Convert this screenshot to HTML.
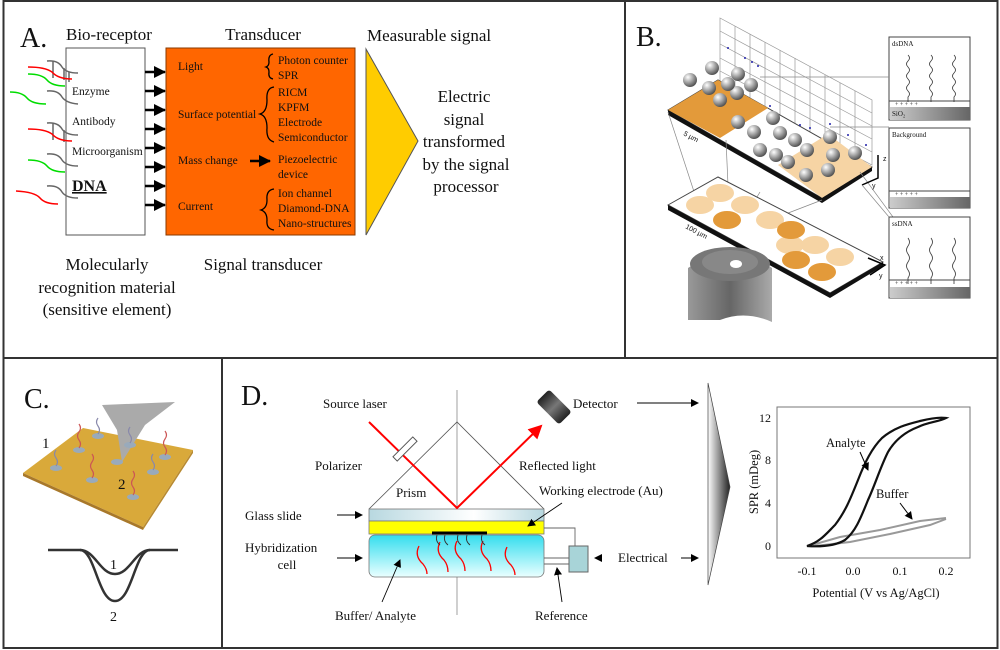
<!DOCTYPE html>
<html><head><meta charset="utf-8"><style>
html,body{margin:0;padding:0;background:#fff}
svg{display:block}
text{font-family:"Liberation Serif",serif;fill:#111}
.s{font-family:"Liberation Sans",sans-serif}
</style></head><body>
<svg width="1000" height="650" viewBox="0 0 1000 650" xmlns="http://www.w3.org/2000/svg">
<defs>
<marker id="ah" markerWidth="8" markerHeight="8" refX="7" refY="4" orient="auto" markerUnits="userSpaceOnUse"><path d="M0,0 L8,4 L0,8 z" fill="#000"/></marker>
<marker id="ahb" markerWidth="12" markerHeight="12" refX="11" refY="6" orient="auto" markerUnits="userSpaceOnUse"><path d="M0,0 L12,6 L0,12 z" fill="#000"/></marker>
<marker id="ahr" markerWidth="14" markerHeight="14" refX="12" refY="7" orient="auto" markerUnits="userSpaceOnUse"><path d="M0,0 L14,7 L0,14 z" fill="#f00"/></marker>
<linearGradient id="glass" x1="0" x2="1"><stop offset="0" stop-color="#b8d8e0"/><stop offset="0.6" stop-color="#fff"/><stop offset="1" stop-color="#b8d8e0"/></linearGradient>
<linearGradient id="cell" x1="0" y1="0" x2="0" y2="1"><stop offset="0" stop-color="#33ddee"/><stop offset="1" stop-color="#eaffff"/></linearGradient>
<linearGradient id="tri" x1="0" x2="1"><stop offset="0" stop-color="#fff"/><stop offset="1" stop-color="#222"/></linearGradient>
<linearGradient id="sub" x1="0" x2="1"><stop offset="0" stop-color="#ccc"/><stop offset="1" stop-color="#666"/></linearGradient>
<radialGradient id="ball" cx="0.35" cy="0.3" r="0.7"><stop offset="0" stop-color="#fff"/><stop offset="0.5" stop-color="#aaa"/><stop offset="1" stop-color="#555"/></radialGradient>
<linearGradient id="det" x1="0" x2="1"><stop offset="0" stop-color="#222"/><stop offset="0.5" stop-color="#777"/><stop offset="1" stop-color="#222"/></linearGradient>
<linearGradient id="obj" x1="0" x2="1"><stop offset="0" stop-color="#999"/><stop offset="0.5" stop-color="#666"/><stop offset="1" stop-color="#aaa"/></linearGradient>
</defs>

<rect x="3.5" y="1" width="994" height="647" fill="none" stroke="#333" stroke-width="2"/>
<line x1="3" y1="358" x2="998" y2="358" stroke="#333" stroke-width="2"/>
<line x1="625" y1="1" x2="625" y2="358" stroke="#333" stroke-width="2"/>
<line x1="222" y1="358" x2="222" y2="648" stroke="#333" stroke-width="2"/>

<!-- PANEL A -->
<text x="20" y="47" font-size="28">A.</text>
<text x="66" y="40" font-size="17">Bio-receptor</text>
<text x="263" y="40" font-size="17" text-anchor="middle">Transducer</text>
<text x="367" y="41" font-size="17">Measurable signal</text>
<rect x="66" y="48" width="79" height="187" fill="#fff" stroke="#555"/>
<rect x="166" y="48" width="189" height="187" fill="#ff6600" stroke="#8a3a00"/>
<polygon points="366,49 418,141 366,235" fill="#ffcc00" stroke="#555"/>
<g stroke="#000" stroke-width="2.5" marker-end="url(#ahb)">
<line x1="145" y1="72" x2="165" y2="72"/><line x1="145" y1="91" x2="165" y2="91"/><line x1="145" y1="110" x2="165" y2="110"/><line x1="145" y1="129" x2="165" y2="129"/><line x1="145" y1="148" x2="165" y2="148"/><line x1="145" y1="167" x2="165" y2="167"/><line x1="145" y1="186" x2="165" y2="186"/><line x1="145" y1="205" x2="165" y2="205"/>
<line x1="250" y1="161" x2="270" y2="161"/>
</g>
<g font-size="11.5">
<text x="72" y="95">Enzyme</text><text x="72" y="125">Antibody</text><text x="72" y="155">Microorganism</text>
<text x="178" y="70">Light</text><text x="178" y="118">Surface potential</text><text x="178" y="164">Mass change</text><text x="178" y="210">Current</text>
<text x="278" y="64">Photon counter</text><text x="278" y="79">SPR</text>
<text x="278" y="96">RICM</text><text x="278" y="111">KPFM</text><text x="278" y="126">Electrode</text><text x="278" y="141">Semiconductor</text>
<text x="278" y="163">Piezoelectric</text><text x="278" y="178">device</text>
<text x="278" y="197">Ion channel</text><text x="278" y="212">Diamond-DNA</text><text x="278" y="227">Nano-structures</text>
</g>
<text x="72" y="191" font-size="16" font-weight="bold" text-decoration="underline">DNA</text>
<g fill="none" stroke="#000" stroke-width="1.3">
<path d="M273,54 Q268,55 269,62 Q269,66 266,67 Q269,68 269,72 Q268,78 273,79"/>
<path d="M274,87 Q266,88 267,100 Q267,112 260,114 Q267,116 267,128 Q266,140 274,142"/>
<path d="M274,189 Q266,190 267,200 Q267,208 261,210 Q267,212 267,220 Q266,229 274,230"/>
</g>
<g font-size="17" text-anchor="middle">
<text x="464" y="102">Electric</text><text x="464" y="125">signal</text><text x="464" y="147">transformed</text><text x="466" y="170">by the signal</text><text x="466" y="192">processor</text>
<text x="107" y="270">Molecularly</text><text x="107" y="293">recognition material</text><text x="107" y="315">(sensitive element)</text>
<text x="263" y="270">Signal transducer</text>
</g>
<g fill="none" stroke-width="1.5">
<g stroke="#666"><path d="M47,61 Q58,60 62,67 Q66,73 78,73"/><path d="M47,91 Q58,90 62,97 Q66,103 78,104"/><path d="M47,123 Q58,122 62,129 Q66,135 78,135"/><path d="M47,154 Q58,153 62,160 Q66,166 78,166"/><path d="M47,186 Q58,185 62,192 Q66,198 78,198"/>
<path d="M53,61 V78 M64,68 V80 M69,72 V82 M53,123 V140 M64,130 V142"/></g>
<g stroke="#f00"><path d="M28,67 Q45,67 52,72 Q58,79 72,79"/><path d="M28,129 Q45,129 52,134 Q58,141 72,141"/><path d="M16,191 Q35,192 40,198 Q45,204 58,204"/></g>
<g stroke="#0d0"><path d="M28,74 Q42,74 47,80 Q52,86 65,86"/><path d="M10,92 Q22,92 27,98 Q32,104 46,104"/><path d="M28,160 Q42,160 47,166 Q52,172 65,172"/></g>
</g>

<!-- PANEL B -->
<text x="636" y="46" font-size="28">B.</text>
<g stroke="#999" stroke-width="0.7" fill="none">
<polygon points="720,18 872,100 872,165 720,85"/>
<line x1="735" y1="26" x2="735" y2="93"/><line x1="750" y1="34" x2="750" y2="101"/><line x1="765" y1="42" x2="765" y2="109"/><line x1="780" y1="50" x2="780" y2="117"/><line x1="795" y1="58" x2="795" y2="125"/><line x1="810" y1="66" x2="810" y2="133"/><line x1="825" y1="75" x2="825" y2="141"/><line x1="840" y1="83" x2="840" y2="149"/><line x1="855" y1="91" x2="855" y2="157"/>
<line x1="720" y1="31" x2="872" y2="113"/><line x1="720" y1="44" x2="872" y2="126"/><line x1="720" y1="58" x2="872" y2="139"/><line x1="720" y1="71" x2="872" y2="152"/>
</g>
<polygon points="668,110 718,80 872,167 822,198" fill="#fff" stroke="#444"/>
<polygon points="668,110 718,80 768,108 720,138" fill="#e39a3a"/>
<polygon points="778,165 828,134 872,167 822,198" fill="#f6d4a4"/>
<polygon points="668,110 822,198 822,203 668,115" fill="#111"/>
<polygon points="822,198 872,167 872,171 822,203" fill="#111"/>
<g fill="url(#ball)">
<circle cx="690" cy="80" r="7"/><circle cx="712" cy="68" r="7"/><circle cx="738" cy="74" r="7"/><circle cx="737" cy="93" r="7"/><circle cx="709" cy="88" r="7"/><circle cx="728" cy="84" r="7"/><circle cx="751" cy="85" r="7"/><circle cx="720" cy="100" r="7"/>
<circle cx="738" cy="122" r="7"/><circle cx="754" cy="132" r="7"/><circle cx="780" cy="133" r="7"/><circle cx="795" cy="140" r="7"/><circle cx="760" cy="150" r="7"/><circle cx="776" cy="155" r="7"/><circle cx="788" cy="162" r="7"/><circle cx="807" cy="150" r="7"/><circle cx="830" cy="137" r="7"/><circle cx="833" cy="155" r="7"/><circle cx="855" cy="153" r="7"/><circle cx="828" cy="170" r="7"/><circle cx="806" cy="175" r="7"/><circle cx="773" cy="118" r="7"/>
</g>
<g fill="#22a"><circle cx="728" cy="48" r="1"/><circle cx="745" cy="58" r="1"/><circle cx="752" cy="62" r="1"/><circle cx="758" cy="66" r="1"/><circle cx="770" cy="106" r="1"/><circle cx="800" cy="125" r="1"/><circle cx="810" cy="128" r="1"/><circle cx="830" cy="124" r="1"/><circle cx="848" cy="135" r="1"/><circle cx="866" cy="145" r="1"/></g>
<text x="683" y="135" font-size="7" class="s" transform="rotate(28 683 135)">5 µm</text>
<g stroke="#888" stroke-width="0.7"><line x1="668" y1="112" x2="700" y2="210"/><line x1="726" y1="140" x2="728" y2="185"/><line x1="822" y1="200" x2="770" y2="220"/><line x1="760" y1="192" x2="740" y2="225"/><line x1="860" y1="172" x2="893" y2="217"/></g>
<polygon points="668,205 718,177 883,262 830,293" fill="#fff" stroke="#444"/>
<g fill="#f6d4a4"><ellipse cx="720" cy="193" rx="14" ry="9"/><ellipse cx="700" cy="205" rx="14" ry="9"/><ellipse cx="745" cy="205" rx="14" ry="9"/><ellipse cx="770" cy="220" rx="14" ry="9"/><ellipse cx="790" cy="245" rx="14" ry="9"/><ellipse cx="815" cy="245" rx="14" ry="9"/><ellipse cx="840" cy="257" rx="14" ry="9"/></g>
<g fill="#e39a3a"><ellipse cx="727" cy="220" rx="14" ry="9"/><ellipse cx="791" cy="230" rx="14" ry="9"/><ellipse cx="796" cy="260" rx="14" ry="9"/><ellipse cx="822" cy="272" rx="14" ry="9"/></g>
<polygon points="668,205 830,293 830,298 668,210" fill="#111"/>
<polygon points="830,293 883,262 883,266 830,298" fill="#111"/>
<text x="685" y="228" font-size="7" class="s" transform="rotate(28 685 228)">100 µm</text>
<g stroke="#000" stroke-width="1.5" fill="none"><path d="M878,155 V178 L862,185"/><path d="M868,258 L885,265 L870,275"/></g>
<text x="883" y="161" font-size="7" class="s">z</text><text x="872" y="188" font-size="7" class="s">y</text><text x="880" y="260" font-size="7" class="s">x</text><text x="879" y="278" font-size="7" class="s">y</text>
<path d="M688,268 Q730,240 772,268 L772,322 Q745,310 720,320 L688,320 Z" fill="url(#obj)"/>
<ellipse cx="730" cy="264" rx="40" ry="17" fill="#777"/>
<ellipse cx="730" cy="262" rx="28" ry="12" fill="#888"/>
<ellipse cx="736" cy="264" rx="6" ry="4" fill="#fff"/>
<g stroke="#444" fill="#fff">
<rect x="889" y="37" width="81" height="83"/><rect x="889" y="128" width="81" height="80"/><rect x="889" y="217" width="81" height="81"/>
</g>
<g fill="url(#sub)"><rect x="890" y="107" width="80" height="13"/><rect x="890" y="197" width="80" height="11"/><rect x="890" y="287" width="80" height="11"/></g>
<g stroke="#444"><line x1="889" y1="101" x2="970" y2="101"/><line x1="889" y1="191" x2="970" y2="191"/><line x1="889" y1="280" x2="970" y2="280"/></g>
<g font-size="7" class="s"><text x="892" y="46">dsDNA</text><text x="892" y="137">Background</text><text x="892" y="226">ssDNA</text><text x="892" y="116">SiO₂</text></g>
<g font-size="6" class="s"><text x="895" y="106">+  +  +  +  +</text><text x="895" y="196">+  +  +  +  +</text><text x="895" y="285">+  +  +  +  +</text></g>
<g stroke="#333" fill="none" stroke-width="0.8">
<path d="M908,55 q3,3 0,6 q-3,3 0,6 q3,3 0,6 q-3,3 0,6 q3,3 0,6 q-3,3 0,6 q3,3 0,6 v5"/><path d="M931,55 q3,3 0,6 q-3,3 0,6 q3,3 0,6 q-3,3 0,6 q3,3 0,6 q-3,3 0,6 q3,3 0,6 v5"/><path d="M954,55 q3,3 0,6 q-3,3 0,6 q3,3 0,6 q-3,3 0,6 q3,3 0,6 q-3,3 0,6 q3,3 0,6 v5"/>
<path d="M908,238 q3,4 0,8 q-3,4 0,8 q3,4 0,8 q-3,4 0,8 q3,4 0,8 v6"/><path d="M931,238 q3,4 0,8 q-3,4 0,8 q3,4 0,8 q-3,4 0,8 q3,4 0,8 v6"/><path d="M954,238 q3,4 0,8 q-3,4 0,8 q3,4 0,8 q-3,4 0,8 q3,4 0,8 v6"/>
</g>
<g stroke="#888" stroke-width="0.7"><line x1="760" y1="77" x2="889" y2="77"/><line x1="830" y1="127" x2="889" y2="127"/><line x1="862" y1="185" x2="889" y2="217"/></g>

<!-- PANEL C -->
<text x="24" y="408" font-size="28">C.</text>
<polygon points="23,473 83,428 193,450 143,527" fill="#d9a93a"/>
<polygon points="23,473 143,527 143,530 23,476" fill="#a8782a"/>
<polygon points="143,527 193,450 193,453 143,530" fill="#b88a30"/>
<polygon points="102,405 175,402 145,425 122,462 117,430" fill="#aaa"/>
<g fill="#9ab"><ellipse cx="79" cy="450" rx="6" ry="3"/><ellipse cx="98" cy="436" rx="6" ry="3"/><ellipse cx="56" cy="468" rx="6" ry="3"/><ellipse cx="92" cy="480" rx="6" ry="3"/><ellipse cx="117" cy="462" rx="6" ry="3"/><ellipse cx="133" cy="497" rx="6" ry="3"/><ellipse cx="153" cy="472" rx="6" ry="3"/><ellipse cx="165" cy="457" rx="6" ry="3"/><ellipse cx="130" cy="445" rx="6" ry="3"/></g>
<g stroke="#c55" fill="none" stroke-width="1.2"><path d="M79,448 q3,-4 0,-8 q-3,-4 0,-8 q3,-4 0,-8"/><path d="M92,478 q3,-4 0,-8 q-3,-4 0,-8 q3,-4 0,-8"/><path d="M133,495 q3,-4 0,-8 q-3,-4 0,-8 q3,-4 0,-8"/><path d="M165,455 q3,-4 0,-8 q-3,-4 0,-8 q3,-4 0,-8"/></g>
<g stroke="#88a" fill="none" stroke-width="1.2"><path d="M56,466 q3,-4 0,-8 q-3,-4 0,-8"/><path d="M98,434 q3,-4 0,-8 q-3,-4 0,-8"/><path d="M153,470 q3,-4 0,-8 q-3,-4 0,-8"/><path d="M130,443 q3,-4 0,-8 q-3,-4 0,-8"/></g>
<text x="42" y="448" font-size="15">1</text><text x="118" y="489" font-size="15">2</text>
<g fill="none" stroke="#333" stroke-width="2.5">
<path d="M48,550 L80,550 C95,550 100,574 115,574 C130,574 135,550 150,550 L178,550"/>
<path d="M80,550 C95,550 98,601 115,601 C132,601 135,550 150,550"/>
</g>
<text x="110" y="569" font-size="14">1</text><text x="110" y="621" font-size="14">2</text>

<!-- PANEL D -->
<text x="241" y="405" font-size="28">D.</text>
<line x1="457" y1="390" x2="457" y2="615" stroke="#888" stroke-width="0.8"/>
<polyline points="369,509 457,422 544,509" fill="none" stroke="#555" stroke-width="0.8"/>
<rect x="369" y="509" width="175" height="12" fill="url(#glass)" stroke="#777" stroke-width="0.8"/>
<rect x="369" y="521" width="175" height="13" fill="#ffff00" stroke="#777" stroke-width="0.8"/>
<rect x="369" y="535" width="175" height="42" rx="6" fill="url(#cell)" stroke="#777" stroke-width="0.8"/>
<line x1="432" y1="533" x2="487" y2="533" stroke="#000" stroke-width="3"/>
<g fill="none" stroke="#f00" stroke-width="1.3">
<path d="M419,546 q-5,10 4,18 q4,5 4,10"/><path d="M440,542 q-5,10 4,18 q4,5 4,12"/><path d="M457,541 q-5,10 4,18 q4,5 4,12"/><path d="M483,541 q-5,10 4,18 q4,5 4,12"/><path d="M507,547 q-5,10 4,18 q4,5 4,10"/>
</g>
<g fill="none" stroke="#333" stroke-width="0.9">
<path d="M437,535 q-2,6 3,10"/><path d="M445,535 q-2,6 3,10"/><path d="M458,535 q-2,6 3,10"/><path d="M467,535 q-2,6 3,10"/><path d="M482,535 q-2,6 3,10"/>
</g>
<polyline points="369,422 457,508 541,426" fill="none" stroke="#f00" stroke-width="2" marker-end="url(#ahr)"/>
<rect x="391" y="446" width="28" height="6" fill="#fff" stroke="#555" transform="rotate(-45 405 449)"/>
<rect x="538" y="398" width="32" height="18" rx="3" fill="url(#det)" transform="rotate(45 554 407)"/>
<rect x="569" y="546" width="19" height="26" fill="#a8d4d8" stroke="#666"/>
<g fill="none" stroke="#666" stroke-width="0.9"><polyline points="544,528 575,528 575,546"/><line x1="544" y1="558" x2="569" y2="558"/><line x1="544" y1="564" x2="569" y2="564"/></g>
<g font-size="13">
<text x="323" y="408">Source laser</text><text x="573" y="408">Detector</text>
<text x="315" y="470">Polarizer</text><text x="519" y="470">Reflected light</text>
<text x="396" y="497">Prism</text><text x="539" y="495">Working electrode (Au)</text>
<text x="245" y="520">Glass slide</text><text x="245" y="552">Hybridization</text><text x="287" y="569" text-anchor="middle">cell</text>
<text x="335" y="620">Buffer/ Analyte</text><text x="535" y="620">Reference</text><text x="618" y="562">Electrical</text>
</g>
<g stroke="#000" stroke-width="0.9" marker-end="url(#ah)">
<line x1="637" y1="403" x2="698" y2="403"/><line x1="337" y1="515" x2="362" y2="515"/><line x1="337" y1="558" x2="362" y2="558"/>
<line x1="601" y1="558" x2="595" y2="558"/><line x1="681" y1="558" x2="698" y2="558"/>
<line x1="562" y1="503" x2="528" y2="526"/><line x1="382" y1="602" x2="400" y2="560"/><line x1="562" y1="602" x2="557" y2="568"/>
</g>
<polygon points="708,383 730,487 708,585" fill="url(#tri)" stroke="#444" stroke-width="0.7"/>

<!-- graph -->
<rect x="777" y="407" width="193" height="151" fill="#fff" stroke="#777" stroke-width="1"/>
<g font-size="12" text-anchor="end"><text x="771" y="422">12</text><text x="771" y="464">8</text><text x="771" y="507">4</text><text x="771" y="550">0</text></g>
<g font-size="12" text-anchor="middle"><text x="807" y="575">-0.1</text><text x="853" y="575">0.0</text><text x="900" y="575">0.1</text><text x="946" y="575">0.2</text></g>
<text x="876" y="597" font-size="12.5" text-anchor="middle">Potential (V vs Ag/AgCl)</text>
<text x="758" y="482" font-size="12.5" text-anchor="middle" transform="rotate(-90 758 482)">SPR (mDeg)</text>
<g fill="none" stroke="#999" stroke-width="2"><path d="M812,545 L840,537 L880,530 L920,521 L946,518"/><path d="M815,546 L850,542 L890,534 L930,525 L946,519"/></g>
<g fill="none" stroke="#111" stroke-width="2.2">
<path d="M807,546 C820,542 826,534 835,525 C845,512 850,500 858,480 C865,462 872,448 882,438 C895,427 908,424 920,421 C932,418 940,417 946,418 C938,422 928,422 918,427 C905,432 895,440 888,452 C880,468 875,485 868,500 C860,520 855,532 845,540 C835,546 822,547 807,546 Z"/>
</g>
<text x="826" y="447" font-size="12.5">Analyte</text><text x="876" y="498" font-size="12.5">Buffer</text>
<g stroke="#000" stroke-width="1" marker-end="url(#ah)"><line x1="860" y1="452" x2="868" y2="470"/><line x1="900" y1="503" x2="912" y2="519"/></g>
</svg>
</body></html>
